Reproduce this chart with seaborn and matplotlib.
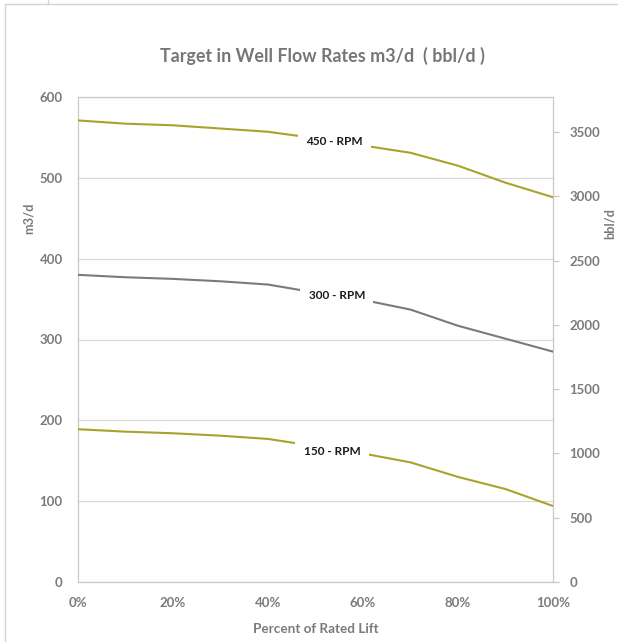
import matplotlib
matplotlib.use("Agg")
import matplotlib.pyplot as plt
import pandas as pd
import seaborn as sns
from matplotlib.lines import Line2D

# percent of rated lift (0..1) and flow in m3/d
lift = [0.0, 0.1, 0.2, 0.3, 0.4, 0.5, 0.6, 0.7, 0.8, 0.9, 1.0]
rpm_450 = [571, 567, 565, 561, 557, 549, 540, 531, 515, 494, 476]
rpm_300 = [380, 377, 375, 372, 368, 358, 349, 337, 317, 301, 285]
rpm_150 = [189, 186, 184, 181, 177, 168, 159, 148, 130, 115, 94]

series_names = ["450 - RPM", "300 - RPM", "150 - RPM"]
label_x = [0.54, 0.545, 0.535]
label_y = [545, 355, 162]

left_ticks = [0, 100, 200, 300, 400, 500, 600]
right_ticks = [0, 500, 1000, 1500, 2000, 2500, 3000, 3500]
x_ticks = [0, 0.2, 0.4, 0.6, 0.8, 1.0]
x_tick_labels = ["0%", "20%", "40%", "60%", "80%", "100%"]

M3_TO_BBL = 6.2898

df = pd.concat(
    [
        pd.DataFrame({"lift": lift, "flow": vals, "rpm": name})
        for name, vals in zip(series_names, [rpm_450, rpm_300, rpm_150])
    ]
)

sns.set_style("white")
plt.rcParams["font.family"] = ["Lato", "DejaVu Sans"]

GRAY = "#7b7b7b"
OLIVE = "#aaa22c"
palette = {"450 - RPM": OLIVE, "300 - RPM": "#7a7a7a", "150 - RPM": OLIVE}
TICK_FS = 9.5

fig = plt.figure(figsize=(6.18, 6.42), dpi=100)
ax = fig.add_axes([78 / 618, 1 - 582 / 642, 475 / 618, 485 / 642])

sns.lineplot(data=df, x="lift", y="flow", hue="rpm", palette=palette,
             legend=False, linewidth=1.5, ax=ax, zorder=3)

for name, lx, ly in zip(series_names, label_x, label_y):
    ax.text(lx, ly, name, ha="center", va="center", fontsize=8.5,
            fontweight="bold", color="#1a1a1a", zorder=5,
            bbox=dict(boxstyle="square,pad=0.7", fc="white", ec="none"))

ax.set_xlim(0, 1)
ax.set_ylim(0, 600)
ax.set_xticks(x_ticks)
ax.set_xticklabels(x_tick_labels)
ax.set_yticks(left_ticks)
ax.grid(axis="y", color="#d9d9d9", linewidth=0.9, zorder=0)
ax.tick_params(axis="both", length=0, labelsize=TICK_FS, labelcolor=GRAY)
ax.tick_params(axis="x", pad=11)
ax.tick_params(axis="y", pad=11)
for lab in ax.get_xticklabels() + ax.get_yticklabels():
    lab.set_fontweight("bold")
for s in ax.spines.values():
    s.set_color("#c8c8c8")
    s.set_linewidth(0.9)
ax.set_xlabel("Percent of Rated Lift", fontsize=9.7, fontweight="bold",
              color=GRAY, labelpad=10)
ax.set_ylabel("m3/d", fontsize=9.2, fontweight="bold", color=GRAY)
ax.yaxis.set_label_coords(-0.09, 0.75)

ax2 = ax.twinx()
ax2.set_ylim(0, 600 * M3_TO_BBL)
ax2.set_yticks(right_ticks)
ax2.tick_params(axis="y", length=4, width=0.9, color="#c8c8c8",
                labelsize=TICK_FS, labelcolor=GRAY, pad=8)
for lab in ax2.get_yticklabels():
    lab.set_fontweight("bold")
for s in ax2.spines.values():
    s.set_visible(False)
ax2.set_ylabel("bbl/d", fontsize=9.2, fontweight="bold", color=GRAY)
ax2.yaxis.set_label_coords(1.107, 0.74)

fig.text(322 / 618, 1 - 56 / 642, "Target in Well Flow Rates m3/d  ( bbl/d )",
         ha="center", va="center", fontsize=12.9, fontweight="bold", color="#767676")

# sheet frame around the chart
fig.add_artist(Line2D([5 / 618, 1], [1 - 4 / 642, 1 - 4 / 642],
                      color="#d4d4d4", linewidth=1))
fig.add_artist(Line2D([5 / 618, 5 / 618], [0, 1 - 4 / 642],
                      color="#d4d4d4", linewidth=1))
fig.add_artist(Line2D([48 / 618, 48 / 618], [1 - 4 / 642, 1],
                      color="#d4d4d4", linewidth=1))

fig.savefig("out.png", dpi=100)
